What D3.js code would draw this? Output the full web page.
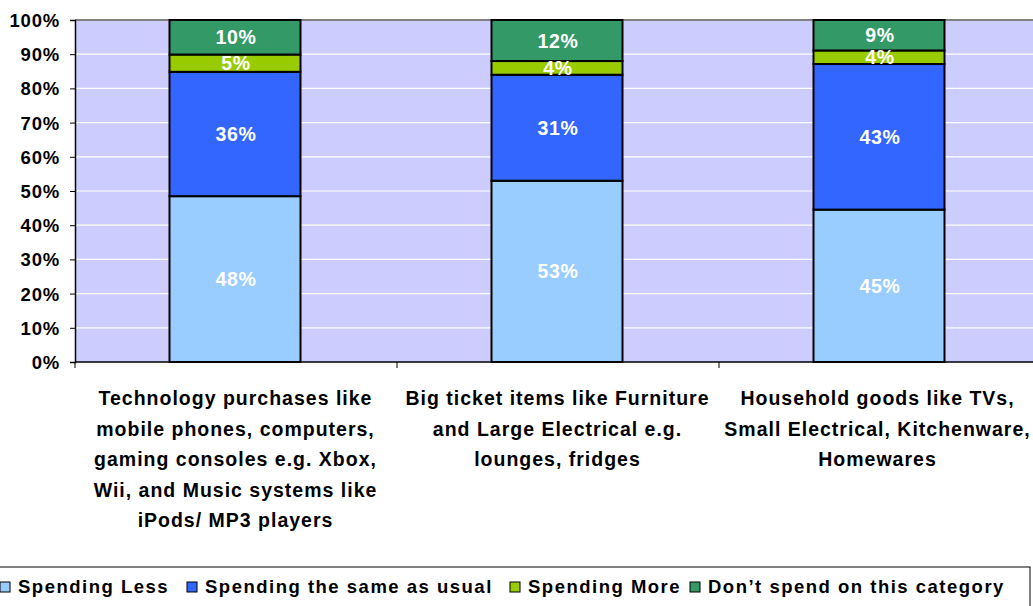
<!DOCTYPE html>
<html><head><meta charset="utf-8">
<script src="https://cdn.jsdelivr.net/npm/d3@7"></script>
<style>body{margin:0;background:#fff}svg{display:block}text{font-family:"Liberation Sans",Arial,sans-serif;font-weight:bold}</style>
</head><body><svg id="c" width="1033" height="606"></svg>
<script>
const categories = [
  ["Technology purchases like","mobile phones, computers,","gaming consoles e.g. Xbox,","Wii, and Music systems like","iPods/ MP3 players"],
  ["Big ticket items like Furniture","and Large Electrical e.g.","lounges, fridges"],
  ["Household goods like TVs,","Small Electrical, Kitchenware,","Homewares"]
];
const seriesNames = ["Spending Less","Spending the same as usual","Spending More","Don\u2019t spend on this category"];
const spendingLess = [48, 53, 45];
const spendingSame = [36, 31, 43];
const spendingMore = [5, 4, 4];
const dontSpend = [10, 12, 9];
const colors = ["#99CCFF","#3366FF","#99CC00","#339966"];
const yTicks = [0,10,20,30,40,50,60,70,80,90,100];

const svg = d3.select("#c");
const L = 75, R = 1041, T = 20, B = 362;
const x = d3.scaleBand().domain([0,1,2]).range([L, R]).paddingInner(0).paddingOuter(0);
const y = d3.scaleLinear().domain([0,100]).range([B, T]);
const barW = 131;

svg.append("rect").attr("x",L).attr("y",T).attr("width",R-L).attr("height",B-T).attr("fill","#CCCCFF");
svg.append("g").selectAll("line").data(yTicks.slice(1)).join("line")
  .attr("x1",L).attr("x2",R).attr("y1",d=>y(d)).attr("y2",d=>y(d))
  .attr("stroke", d=>d===100?"#808080":"#fff").attr("stroke-width", d=>d===100?2:1.2);

const rows = [spendingLess, spendingSame, spendingMore, dontSpend];
const data = [0,1,2].map(i => { const o = {i}; rows.forEach((r,k)=>o["s"+k]=r[i]); return o; });
const keys = ["s0","s1","s2","s3"];
const stack = d3.stack().keys(keys).offset(d3.stackOffsetExpand)(data);

const g = svg.append("g");
stack.forEach((layer,k) => {
  g.selectAll(null).data(layer).join("rect")
    .attr("x", d => x(d.data.i) + x.bandwidth()/2 - barW/2 - 1)
    .attr("width", barW)
    .attr("y", d => y(d[1]*100))
    .attr("height", d => y(d[0]*100) - y(d[1]*100))
    .attr("fill", colors[k]).attr("stroke","#000").attr("stroke-width",2);
});
stack.forEach((layer,k) => {
  g.selectAll(null).data(layer).join("text")
    .attr("x", d => x(d.data.i) + x.bandwidth()/2)
    .attr("y", d => (y(d[1]*100) + y(d[0]*100))/2 + 7)
    .attr("text-anchor","middle").attr("fill","#fff").attr("font-size", 19.5).attr("letter-spacing",0.6)
    .text(d => rows[k][d.data.i] + "%");
});

// y axis
const ya = svg.append("g").attr("transform",`translate(${L},0)`)
  .call(d3.axisLeft(y).tickValues(yTicks).tickFormat(d=>d+"%").tickSize(5).tickPadding(10));
ya.select(".domain").attr("stroke","#000").attr("stroke-width",1.5);
ya.selectAll(".tick line").attr("stroke","#000");
ya.selectAll(".tick text").attr("font-size",18.5).attr("fill","#000").attr("font-family","Liberation Sans, Arial").attr("font-weight","bold").attr("letter-spacing",0.8).attr("dy","0.35em");

// x axis
const xa = svg.append("g").attr("transform",`translate(0,${B})`);
xa.append("line").attr("x1",L).attr("x2",R).attr("stroke","#000").attr("stroke-width",1.5);
xa.selectAll(".t").data([0,1,2]).join("line").attr("class","t")
  .attr("x1",d=>x(d)).attr("x2",d=>x(d)).attr("y1",0).attr("y2",6).attr("stroke","#000");
const catLS = 1.0;
categories.forEach((lines,i) => {
  const cx = x(i) + x.bandwidth()/2 - 1 + catLS/2 - (i===2?2:0);
  const t = svg.append("text").attr("text-anchor","middle").attr("font-size",19.5).attr("letter-spacing",catLS).attr("fill","#000");
  lines.forEach((ln,j) => t.append("tspan").attr("x",cx).attr("y",405 + j*30.5).text(ln));
});

// legend
svg.append("rect").attr("x",-5).attr("y",567).attr("width",1035).attr("height",50).attr("fill","#fff").attr("stroke","#000").attr("stroke-width",1);
const legX = [0, 187, 510, 690];
const lg = svg.append("g");
seriesNames.forEach((n,k) => {
  lg.append("rect").attr("x",legX[k]).attr("y",582).attr("width",10).attr("height",10).attr("fill",colors[k]).attr("stroke","#000").attr("stroke-width",1);
  lg.append("text").attr("x",legX[k]+18).attr("y",593).attr("font-size",18.5).attr("letter-spacing",1.5).attr("fill","#000").text(n);
});
</script></body></html>
